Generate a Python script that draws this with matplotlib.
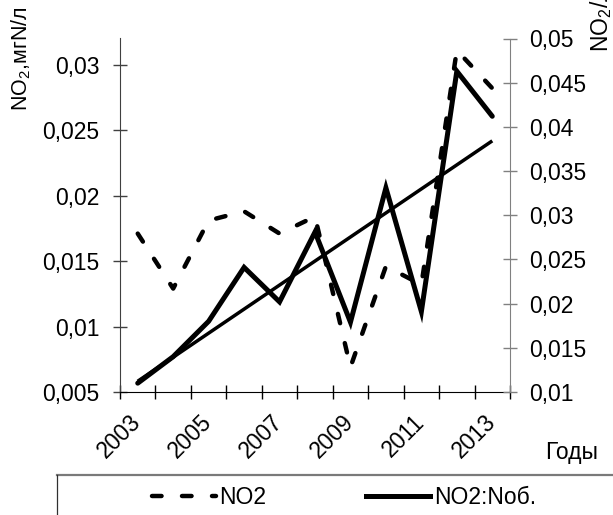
import numpy as np
import matplotlib
matplotlib.use("Agg")
import matplotlib.pyplot as plt
from matplotlib.lines import Line2D

plt.rcParams['font.family'] = ['Liberation Sans', 'DejaVu Sans']
plt.rcParams['mathtext.fontset'] = 'custom'
plt.rcParams['mathtext.rm'] = 'Liberation Sans'
plt.rcParams['mathtext.it'] = 'Liberation Sans'

years = [2003, 2004, 2005, 2006, 2007, 2008, 2009, 2010, 2011, 2012, 2013]
year_labels = ['2003', '2005', '2007', '2009', '2011', '2013']
no2 = [0.0171, 0.0129, 0.0181, 0.0188, 0.0171, 0.0184, 0.0069, 0.0146, 0.0132, 0.0311, 0.0282]
no2_nob = [0.0110, 0.0140, 0.0180, 0.0241, 0.0202, 0.0281, 0.0179, 0.0331, 0.0191, 0.0463, 0.0412]
left_ticks = [0.005, 0.01, 0.015, 0.02, 0.025, 0.03]
left_tick_labels = ['0,005', '0,01', '0,015', '0,02', '0,025', '0,03']
right_ticks = [0.01, 0.015, 0.02, 0.025, 0.03, 0.035, 0.04, 0.045, 0.05]
right_tick_labels = ['0,01', '0,015', '0,02', '0,025', '0,03', '0,035', '0,04', '0,045', '0,05']

W, H = 613, 515
fig = plt.figure(figsize=(W / 100, H / 100), dpi=100)
ax = fig.add_axes([120 / W, 1 - 392 / H, 390 / W, (392 - 38.5) / H])
ax2 = ax.twinx()

x = np.arange(len(years))
FS = 16.5
DASH = (2.15, 4.6)

# dashed NO2 (left axis)
l1, = ax.plot(x, no2, color='black', lw=3.2, dash_capstyle='round',
              dash_joinstyle='round', zorder=3)
l1.set_dashes(DASH)
# solid NO2:Nоб. (right axis) and its linear trend
ax2.plot(x, no2_nob, color='black', lw=3.6, solid_joinstyle='miter',
         solid_capstyle='round', zorder=3)
coef = np.polyfit(x, no2_nob, 1)
ax2.plot(x, np.polyval(coef, x), color='black', lw=2.5, solid_capstyle='butt', zorder=2)

ax.set_xlim(-0.5, len(years) - 0.5)
ax.set_ylim(0.005, 0.032)
ax2.set_ylim(0.01, 0.05)

ax.set_yticks(left_ticks)
ax.set_yticklabels(left_tick_labels, fontsize=FS)
ax2.set_yticks(right_ticks)
ax2.set_yticklabels(right_tick_labels, fontsize=FS)

ax.set_xticks(np.arange(-0.5, len(years), 1.0))
ax.set_xticklabels([])
ax.set_xticks([years.index(int(y)) for y in year_labels], minor=True)
ax.set_xticklabels(year_labels, minor=True, fontsize=FS, rotation=45,
                   ha='right', va='center', rotation_mode='anchor')
ax.tick_params(axis='x', which='minor', length=0, pad=19)
ax.tick_params(axis='x', which='major', direction='inout', length=10, width=1, color='black')
ax.tick_params(axis='y', direction='inout', length=10, width=1, color='#404040', pad=10)
ax2.tick_params(axis='y', direction='inout', length=10, width=1, color='#808080', pad=9)

for s in ['top', 'right']:
    ax.spines[s].set_visible(False)
ax.spines['left'].set_color('#404040')
ax.spines['bottom'].set_color('black')
for s in ['top', 'left', 'bottom']:
    ax2.spines[s].set_visible(False)
ax2.spines['right'].set_color('#808080')

fig.text(21 / W, 1 - 111 / H, 'NO$_2$,мгN/л', rotation=90, ha='center', va='bottom', fontsize=15.5)
fig.text(601 / W, 1 - 52 / H, 'NO$_2$/л', rotation=90, ha='center', va='bottom', fontsize=FS)
fig.text(572 / W, 1 - 452 / H, 'Годы', ha='center', va='center', fontsize=FS)

# legend frame (extends past the figure's right and bottom edges)
top = 1 - 475 / H
left = 57.3 / W
fig.add_artist(Line2D([left, 1.0], [top, top], transform=fig.transFigure,
                      color='#7a7a7a', lw=1.6))
fig.add_artist(Line2D([left, left], [0.0, top], transform=fig.transFigure,
                      color='#303030', lw=0.9))
h1 = Line2D([], [], color='black', lw=3.2, dash_capstyle='round')
h1.set_dashes(DASH)
h2 = Line2D([], [], color='black', lw=3.6)
fig.legend([h1, h2], ['NO2', 'NO2:Nоб.'], loc='center left',
           bbox_to_anchor=(152 / W, 1 - 498 / H), ncol=2, frameon=False, fontsize=FS,
           handlelength=2.8, handletextpad=0.15, columnspacing=4.35, borderpad=0,
           borderaxespad=0)

fig.savefig('out.png', dpi=100)
